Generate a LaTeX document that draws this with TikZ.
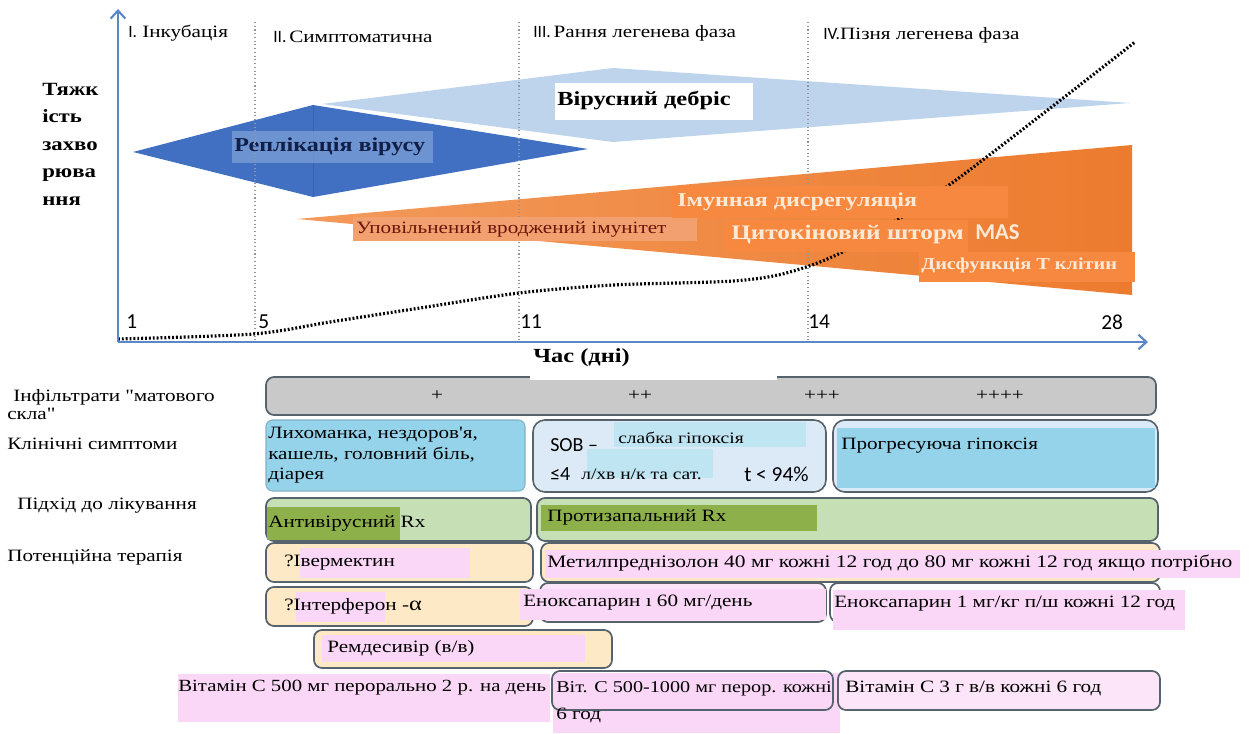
\documentclass[tikz,border=0pt]{standalone}
\usepackage{fontspec}
\setmainfont{Liberation Serif}[FakeStretch=1.22, Ligatures=TeXOff]
\newfontfamily\calib{Carlito}
\usetikzlibrary{arrows.meta}
\definecolor{axisblue}{HTML}{5B87C6}
\definecolor{repblue}{HTML}{4170C2}
\definecolor{repfacet}{HTML}{3862B0}
\definecolor{replbl}{HTML}{7D9FD6}
\definecolor{repltxt}{HTML}{101F48}
\definecolor{debris}{HTML}{BDD4EC}
\definecolor{orA}{HTML}{F39A5C}
\definecolor{orB}{HTML}{EC7B2E}
\definecolor{orbox}{HTML}{F6883F}
\definecolor{orboxL}{HTML}{F3A070}
\definecolor{cream}{HTML}{FCE9D6}
\definecolor{darkred}{HTML}{6A1508}
\definecolor{grayfill}{HTML}{C9C9C9}
\definecolor{edge}{HTML}{56636C}
\definecolor{sky}{HTML}{95D3EA}
\definecolor{pale}{HTML}{DCEAF7}
\definecolor{hl}{HTML}{BFE4F2}
\definecolor{lgreen}{HTML}{C6DFB4}
\definecolor{dgreen}{HTML}{8DB04B}
\definecolor{peach}{HTML}{FDE9C6}
\definecolor{pinkhl}{HTML}{FBD7F7}
\definecolor{pinkpale}{HTML}{FCE5F8}
\definecolor{phasegray}{HTML}{8E98A3}
\tikzset{
  axisline/.style={draw=axisblue, line width=2.2pt, -{Straight Barb[length=6pt,width=11pt,line width=1.6pt]}},
  phaseline/.style={draw=phasegray, dotted, line width=0.8pt},
  course/.style={draw=black, line width=2.4pt, dash pattern=on 1.4pt off 1.5pt},
  lbl/.style={inner sep=0pt, anchor=west, font=\fontsize{13}{15.4}\selectfont},
  smalllbl/.style={inner sep=0pt, anchor=west, font=\fontsize{12}{14}\selectfont},
  phase/.style={inner sep=0pt, anchor=west, font=\fontsize{13}{15}\selectfont},
  day/.style={inner sep=0pt, anchor=west, font=\calib\fontsize{16}{18}\selectfont},
  bigbold/.style={inner sep=0pt, anchor=west, font=\bfseries\fontsize{15}{17}\selectfont},
  orlbl/.style={inner sep=0pt, anchor=west, text=cream, font=\bfseries\fontsize{14.5}{17}\selectfont},
  graybar/.style={fill=grayfill, draw=edge, line width=1.3pt, rounded corners=6pt},
  bluebox/.style={fill=pale, draw=edge, line width=1.2pt, rounded corners=9pt},
  skybox/.style={fill=sky, draw=sky!70!edge, line width=0.8pt, rounded corners=5pt},
  greenbox/.style={fill=lgreen, draw=edge, line width=1.3pt, rounded corners=6pt},
  peachbox/.style={fill=peach, draw=edge, line width=1.3pt, rounded corners=6pt},
  pinkbox/.style={fill=pinkpale, draw=edge, line width=1.3pt, rounded corners=6pt},
  openbox/.style={draw=edge, line width=1.3pt, rounded corners=6pt},
}
\begin{document}
\begin{tikzpicture}[x=0.75pt,y=-0.75pt]
\useasboundingbox (0,0) rectangle (1252,734);
\fill[white] (0,0) rectangle (1252,734);

% ---------- upper chart ----------
\fill[debris] (322,104) -- (613,68) -- (1130,103) -- (613,142) -- cycle;
\fill[white] (555,83) rectangle (753,120);
\node[bigbold] (debristxt) at (557,101) {Вірусний дебріс};

\fill[repblue] (133,152) -- (313,105) -- (588,149) -- (313,197) -- cycle;
\draw[repfacet, line width=0.6pt] (313,106) -- (313,196);
\fill[replbl, opacity=0.75] (232,131) rectangle (433,163);
\node[bigbold, text=repltxt, font=\bfseries\fontsize{14.8}{17}\selectfont] (reptxt) at (234,147) {Реплікація вірусу};

\shade[left color=orA, right color=orB] (297,219) -- (1132,145) -- (1132,295) -- cycle;

% phase separators
\coordinate (p5t) at (255,22);  \coordinate (p5b) at (255,342);
\coordinate (p11t) at (519,22); \coordinate (p11b) at (519,342);
\coordinate (p14t) at (808,22); \coordinate (p14b) at (808,342);
\draw[phaseline] (p5t) -- (p5b);
\draw[phaseline] (p11t) -- (p11b);
\draw[phaseline] (p14t) -- (p14b);

% disease course
\draw[course] plot[smooth, tension=0.5] coordinates {(118,339) (253,334) (330,322) (420,308) (519,293) (613,285) (733,281) (790,272) (850,248) (952,183) (1135,42)};

% orange labels
\fill[orboxL] (353,217) rectangle (697,241);
\node[lbl, text=darkred] (innate) at (356,229) {Уповільнений вроджений імунітет};
\fill[orbox] (672,186) rectangle (1008,218);
\node[orlbl, font=\bfseries\fontsize{14.8}{17}\selectfont] (dysreg) at (677,202) {Імунная дисрегуляція};
\fill[orbox] (725,220) rectangle (968,252);
\node[orlbl, font=\bfseries\fontsize{15.5}{17}\selectfont] (storm) at (731,235) {Цитокіновий шторм};
\node[orlbl, font=\calib\bfseries\fontsize{17}{19}\selectfont] (mas) at (975,232) {MAS};
\fill[orbox] (919,252) rectangle (1135,282);
\node[orlbl, font=\bfseries\fontsize{12.5}{14}\selectfont] (tcell) at (921,266) {Дисфункція Т клітин};

% axes
\coordinate (O) at (118,342);
\coordinate (ytop) at (118,9);
\coordinate (xend) at (1148,342);
\draw[axisline] (O) -- (ytop);
\draw[axisline] (O) -- (xend);

% phase titles
\node[phase] (ph1) at (128,33) {{\calib I.} Інкубація};
\node[phase] (ph2) at (273,37) {{\calib II.}\,Симптоматична};
\node[phase] (ph3) at (533,33) {{\calib III.}\,Рання легенева фаза};
\node[phase] (ph4) at (823,35) {{\calib IV.}Пізня легенева фаза};

% y label
\node[inner sep=0pt, anchor=north west, align=left, font=\bfseries\fontsize{14}{20.6}\selectfont] (sev) at (42,83) {Тяжк\\ість\\захво\\рюва\\ння};

% day numbers
\node[day] (d1) at (126,322) {1};
\node[day] (d5) at (258,322) {5};
\node[day] (d11) at (520,322) {11};
\node[day] (d14) at (808,322) {14};
\node[day] (d28) at (1101,322) {28};

% ---------- lower table ----------
\draw[graybar] (266,377) rectangle (1156,415);
\fill[white] (530,346) rectangle (777,380);
\node[bigbold] (time) at (533,358) {Час (дні)};
\node[lbl, anchor=center] (g1) at (437,396) {+};
\node[lbl, anchor=center] (g2) at (640,396) {++};
\node[lbl, anchor=center] (g3) at (822,396) {+++};
\node[lbl, anchor=center] (g4) at (1000,396) {++++};

% row labels
\node[lbl] (rl1) at (13,397) {Інфільтрати "матового};
\node[lbl] (rl1b) at (7,414) {скла"};
\node[lbl] (rl2) at (7,444) {Клінічні симптоми};
\node[lbl] (rl3) at (17,506) {Підхід до лікування};
\node[lbl] (rl4) at (7,557) {Потенційна терапія};

% clinical symptoms
\draw[skybox] (266,420) rectangle (525,491);
\node[lbl, anchor=north west, align=left] (cs1) at (268,427) {Лихоманка, нездоров'я,\\кашель, головний біль,\\діарея};
\draw[bluebox] (533,420) rectangle (826,492);
\fill[hl] (614,422) rectangle (806,447);
\fill[hl] (587,449) rectangle (713,478);
\node[inner sep=0pt, anchor=west, font=\calib\fontsize{15}{17}\selectfont] (sob) at (550,445) {SOB –};
\node[smalllbl] (hypo) at (618,438) {слабка гіпоксія};
\node[inner sep=0pt, anchor=west, font=\calib\fontsize{15}{17}\selectfont] (le4) at (550,474) {≤4};
\node[smalllbl] (flow) at (581,474) {л/хв н/к та сат.};
\node[inner sep=0pt, anchor=west, font=\calib\fontsize{16}{18}\selectfont] (sat) at (744,474) {t < 94\%};
\draw[bluebox] (833,420) rectangle (1158,492);
\fill[sky] (837,428) rectangle (1155,488);
\node[lbl] (cs3) at (841,446) {Прогресуюча гіпоксія};

% treatment approach
\draw[greenbox] (266,498) rectangle (531,541);
\fill[dgreen] (267,507) rectangle (400,540);
\node[lbl] (antiv) at (268,523) {Антивірусний Rx};
\draw[greenbox] (537,498) rectangle (1158,541);
\fill[dgreen] (541,505) rectangle (817,531);
\node[lbl] (antiinf) at (547,517) {Протизапальний Rx};

% potential therapy
\draw[peachbox] (266,543) rectangle (533,582);
\fill[pinkhl] (300,548) rectangle (470,578);
\node[lbl] (iver) at (284,563) {?Івермектин};
\draw[peachbox] (541,543) rectangle (1160,582);
\fill[pinkhl] (545,550) rectangle (1240,578);
\node[lbl, font=\fontsize{13.2}{15.4}\selectfont] (mpred) at (547,563) {Метилпреднізолон 40 мг кожні 12 год до 80 мг кожні 12 год якщо потрібно};

\draw[peachbox] (266,587) rectangle (533,626);
\fill[pinkhl] (296,592) rectangle (385,622);
\node[lbl] (ifn) at (284,606) {?Інтерферон -{\fontsize{15}{17}\selectfont α}};
\draw[pinkbox] (540,583) rectangle (826,622);
\fill[pinkhl] (520,589) rectangle (826,620);
\node[lbl] (enox1) at (523,603) {Еноксапарин ı 60 мг/день};
\draw[openbox] (830,583) rectangle (1160,622);
\fill[pinkhl] (833,590) rectangle (1185,630);
\node[lbl] (enox2) at (834,604) {Еноксапарин 1 мг/кг п/ш кожні 12 год};

\draw[peachbox] (314,630) rectangle (612,668);
\fill[pinkhl] (322,635) rectangle (585,662);
\node[lbl] (remd) at (327,648) {Ремдесивір (в/в)};

\fill[pinkhl] (178,674) rectangle (550,722);
\node[lbl, font=\fontsize{12.8}{15}\selectfont] (vc1) at (178,688) {Вітамін С 500 мг перорально 2 р. на день};
\fill[pinkhl] (553,673) rectangle (840,733);
\draw[openbox] (552,671) rectangle (833,710);
\node[lbl, font=\fontsize{12.4}{15}\selectfont] (vc2) at (556,689) {Віт. С 500-1000 мг перор. кожні};
\node[lbl] (vc2b) at (556,715) {6 год};
\draw[pinkbox] (838,671) rectangle (1160,710);
\node[lbl] (vc3) at (845,688) {Вітамін С 3 г в/в кожні 6 год};
\end{tikzpicture}
\end{document}
